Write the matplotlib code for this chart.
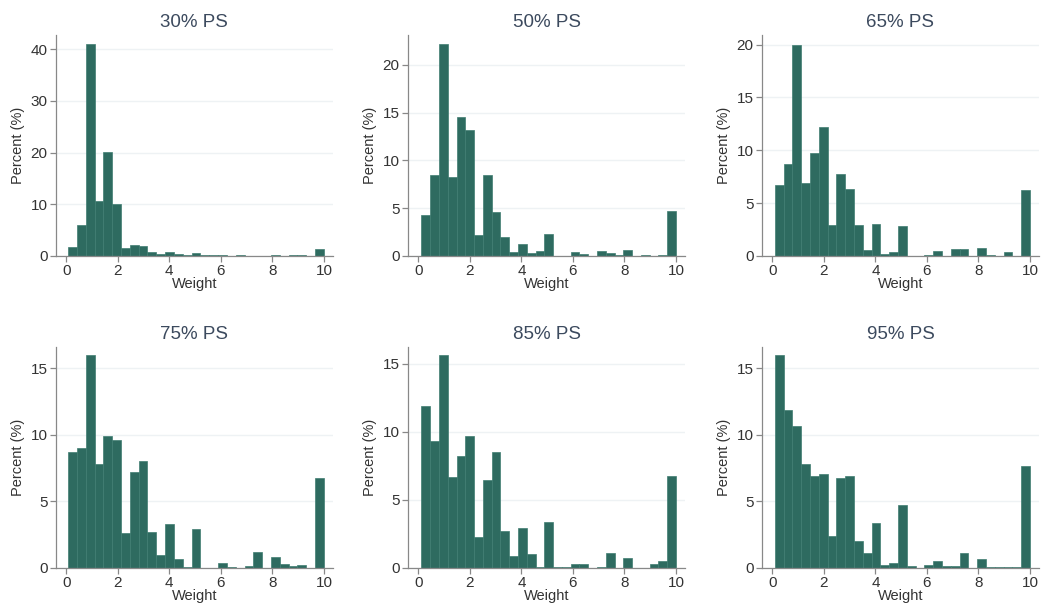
import numpy as np
import matplotlib
matplotlib.use("Agg")
import matplotlib.pyplot as plt

plt.rcParams['font.family'] = ['Liberation Sans', 'DejaVu Sans']

titles = ["30% PS", "50% PS", "65% PS", "75% PS", "85% PS", "95% PS"]

# Percent per bin (29 equal-width bins from the smallest weight up to 10)
ps30 = [1.75, 6.0, 41.0, 10.7, 20.2, 10.05, 1.5, 2.1, 1.95, 0.7, 0.4, 0.75, 0.45, 0.1, 0.5,
        0.1, 0.2, 0.2, 0.05, 0.25, 0.0, 0.0, 0.0, 0.2, 0.0, 0.2, 0.2, 0.05, 1.35]
ps50 = [4.25, 8.5, 22.2, 8.3, 14.5, 13.2, 2.2, 8.5, 4.6, 2.0, 0.45, 1.3, 0.35, 0.55, 2.35,
        0.0, 0.0, 0.45, 0.25, 0.0, 0.5, 0.3, 0.1, 0.6, 0.0, 0.1, 0.0, 0.1, 4.75]
ps65 = [6.7, 8.7, 19.95, 6.95, 9.7, 12.2, 2.95, 7.8, 6.35, 2.95, 0.55, 3.05, 0.2, 0.35, 2.85,
        0.0, 0.0, 0.1, 0.45, 0.0, 0.65, 0.65, 0.0, 0.75, 0.1, 0.0, 0.35, 0.0, 6.2]
ps75 = [8.75, 9.0, 16.0, 7.8, 9.9, 9.6, 2.6, 7.2, 8.05, 2.7, 1.0, 3.3, 0.7, 0.08, 2.9,
        0.0, 0.0, 0.4, 0.08, 0.0, 0.15, 1.2, 0.0, 0.8, 0.28, 0.18, 0.25, 0.0, 6.75]
ps85 = [11.9, 9.3, 15.6, 6.7, 8.2, 9.7, 2.3, 6.45, 8.5, 2.7, 0.9, 2.9, 1.0, 0.07, 3.4,
        0.07, 0.07, 0.27, 0.27, 0.0, 0.07, 1.1, 0.0, 0.7, 0.0, 0.0, 0.27, 0.5, 6.75]
ps95 = [16.0, 11.9, 10.7, 7.85, 6.95, 7.05, 2.4, 6.75, 6.95, 2.0, 1.1, 3.4, 0.25, 0.4, 4.75,
        0.15, 0.0, 0.25, 0.5, 0.15, 0.15, 1.1, 0.0, 0.7, 0.05, 0.05, 0.05, 0.05, 7.65]

series = [ps30, ps50, ps65, ps75, ps85, ps95]
bin_start = [0.07, 0.12, 0.10, 0.07, 0.12, 0.10]
bin_end = 10.0

yticks = [[0, 10, 20, 30, 40], [0, 5, 10, 15, 20], [0, 5, 10, 15, 20],
          [0, 5, 10, 15], [0, 5, 10, 15], [0, 5, 10, 15]]
ytops = [42.7, 23.1, 20.9, 16.6, 16.2, 16.6]
xticks = [0, 2, 4, 6, 8, 10]

bar_color = "#2e6b60"
edge_color = "#3f7d71"
text_color = "#333333"
title_color = "#3c4a5e"
axis_color = "#888888"
grid_color = "#eef2f4"

fig = plt.figure(figsize=(10.42, 6.05), dpi=100)
lefts = [0.0537, 0.3916, 0.7313]
bottoms = [0.5769, 0.0612]
w, h = 0.2658, 0.365

for i, vals in enumerate(series):
    r, c = divmod(i, 3)
    ax = fig.add_axes([lefts[c], bottoms[r], w, h])
    edges = np.linspace(bin_start[i], bin_end, len(vals) + 1)
    ax.bar(edges[:-1], vals, width=np.diff(edges), align='edge',
           color=bar_color, edgecolor=edge_color, linewidth=0.5, zorder=2)
    ax.set_xlim(-0.4, 10.35)
    ax.set_ylim(0, ytops[i])
    ax.set_yticks(yticks[i])
    ax.set_xticks(xticks)
    ax.yaxis.grid(True, color=grid_color, linewidth=1.0, zorder=0)
    ax.set_axisbelow(True)
    for s in ['top', 'right']:
        ax.spines[s].set_visible(False)
    for s in ['left', 'bottom']:
        ax.spines[s].set_color(axis_color)
        ax.spines[s].set_linewidth(0.9)
    ax.tick_params(axis='both', colors=axis_color, labelcolor=text_color,
                   labelsize=11, length=4, width=0.9, pad=2)
    ax.set_title(titles[i], fontsize=13.5, color=title_color, pad=6)
    ax.set_xlabel("Weight", fontsize=10.5, color=text_color, labelpad=-1)
    ax.set_ylabel("Percent (%)", fontsize=10.5, color=text_color, labelpad=4)

fig.savefig("out.png", dpi=100, facecolor="white")
